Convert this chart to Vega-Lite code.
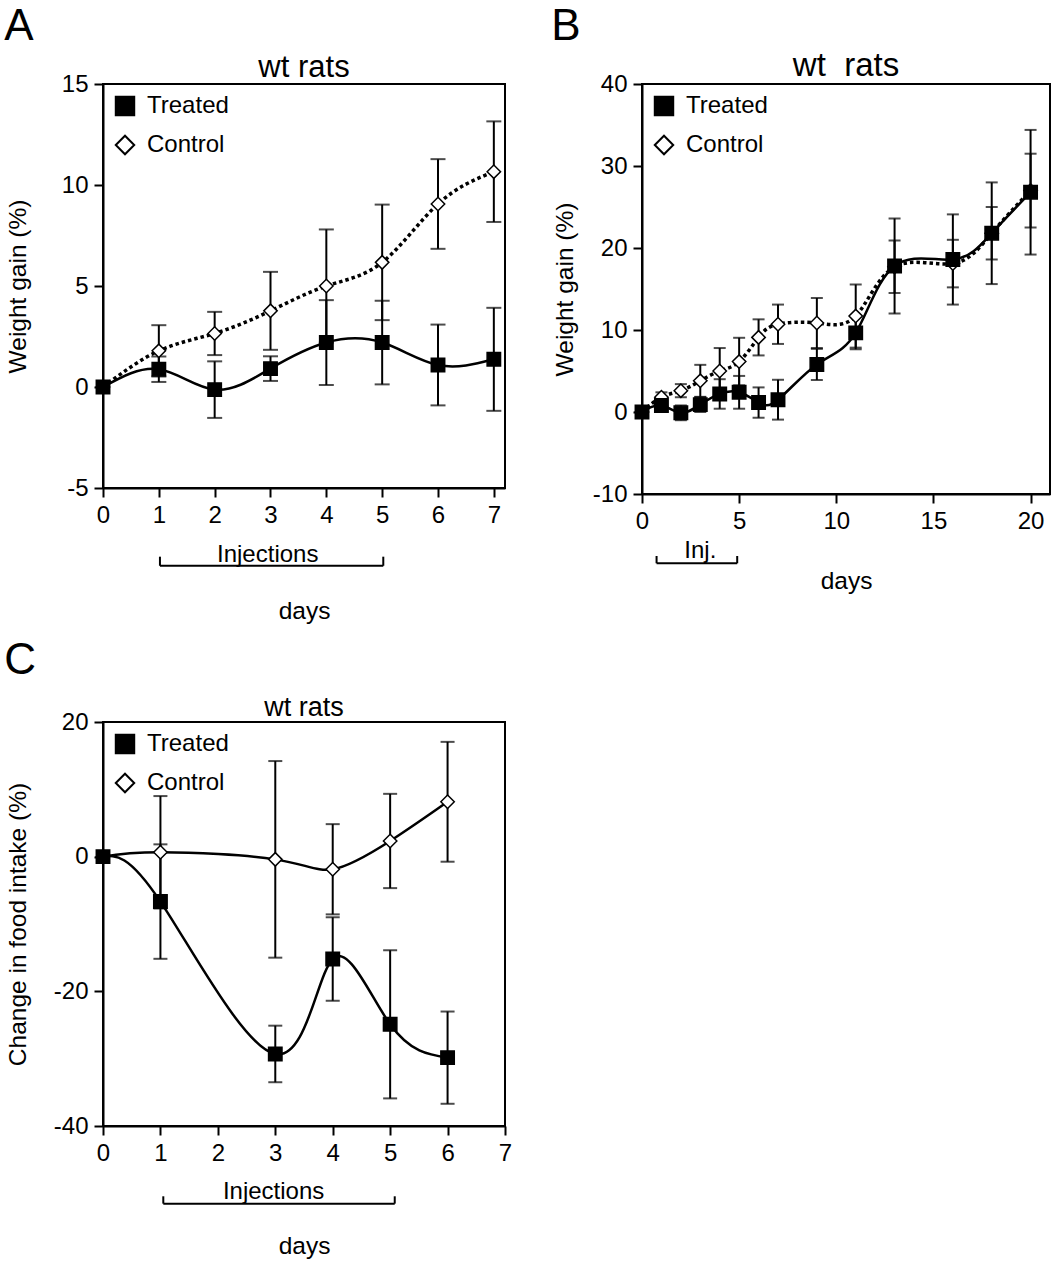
{
  "$schema": "https://vega.github.io/schema/vega-lite/v6.json",
  "background": "white",
  "padding": {"left": 4, "top": 5, "right": 0, "bottom": 0},
  "config": {
    "font": "Liberation Sans",
    "view": {"stroke": "black", "strokeWidth": 2},
    "axis": {"domainColor": "black", "domainWidth": 2, "tickColor": "black", "tickWidth": 2, "tickSize": 9, "labelFontSize": 24, "labelColor": "black", "labelPadding": 6, "titleFontSize": 24.5, "titleFontWeight": "normal", "titleColor": "black", "grid": false, "labelFlush": false, "labelOverlap": false},
    "title": {"fontWeight": "normal", "color": "black", "anchor": "middle"},
    "legend": {"orient": "top-left", "offset": 10, "padding": 0, "labelFontSize": 24, "labelColor": "black", "symbolSize": 340, "symbolStrokeWidth": 2, "symbolStrokeColor": "black", "rowPadding": 11, "labelOffset": 10}
  },
  "datasets": {
    "pts": [
      {"panel": "A", "series": "Control", "day": 0, "value": 0, "err": null},
      {"panel": "A", "series": "Control", "day": 1, "value": 1.79, "err": 1.27},
      {"panel": "A", "series": "Control", "day": 2, "value": 2.65, "err": 1.07},
      {"panel": "A", "series": "Control", "day": 3, "value": 3.77, "err": 1.93},
      {"panel": "A", "series": "Control", "day": 4, "value": 5.0, "err": 2.8},
      {"panel": "A", "series": "Control", "day": 5, "value": 6.17, "err": 2.86},
      {"panel": "A", "series": "Control", "day": 6, "value": 9.06, "err": 2.22},
      {"panel": "A", "series": "Control", "day": 7, "value": 10.66, "err": 2.49},
      {"panel": "A", "series": "Treated", "day": 0, "value": 0, "err": null},
      {"panel": "A", "series": "Treated", "day": 1, "value": 0.88, "err": 0.63},
      {"panel": "A", "series": "Treated", "day": 2, "value": -0.13, "err": 1.4},
      {"panel": "A", "series": "Treated", "day": 3, "value": 0.91, "err": 0.61},
      {"panel": "A", "series": "Treated", "day": 4, "value": 2.2, "err": 2.1},
      {"panel": "A", "series": "Treated", "day": 5, "value": 2.2, "err": 2.07},
      {"panel": "A", "series": "Treated", "day": 6, "value": 1.09, "err": 2.0},
      {"panel": "A", "series": "Treated", "day": 7, "value": 1.37, "err": 2.55},
      {"panel": "B", "series": "Control", "day": 0, "value": 0, "err": null},
      {"panel": "B", "series": "Control", "day": 1, "value": 1.8, "err": 0.6},
      {"panel": "B", "series": "Control", "day": 2, "value": 2.6, "err": 0.8},
      {"panel": "B", "series": "Control", "day": 3, "value": 3.8, "err": 1.95},
      {"panel": "B", "series": "Control", "day": 4, "value": 5.0, "err": 2.8},
      {"panel": "B", "series": "Control", "day": 5, "value": 6.15, "err": 2.9},
      {"panel": "B", "series": "Control", "day": 6, "value": 9.1, "err": 2.2},
      {"panel": "B", "series": "Control", "day": 7, "value": 10.7, "err": 2.4},
      {"panel": "B", "series": "Control", "day": 9, "value": 10.85, "err": 3.05},
      {"panel": "B", "series": "Control", "day": 11, "value": 11.7, "err": 3.85},
      {"panel": "B", "series": "Control", "day": 13, "value": 17.7, "err": 3.2},
      {"panel": "B", "series": "Control", "day": 16, "value": 18.1, "err": 2.9},
      {"panel": "B", "series": "Control", "day": 18, "value": 21.8, "err": 3.2},
      {"panel": "B", "series": "Control", "day": 20, "value": 27.0, "err": 4.5},
      {"panel": "B", "series": "Treated", "day": 0, "value": 0, "err": null},
      {"panel": "B", "series": "Treated", "day": 1, "value": 0.8, "err": 0.5},
      {"panel": "B", "series": "Treated", "day": 2, "value": -0.1, "err": 0.9},
      {"panel": "B", "series": "Treated", "day": 3, "value": 0.9, "err": 0.9},
      {"panel": "B", "series": "Treated", "day": 4, "value": 2.2, "err": 1.8},
      {"panel": "B", "series": "Treated", "day": 5, "value": 2.4, "err": 2.0},
      {"panel": "B", "series": "Treated", "day": 6, "value": 1.15, "err": 1.85},
      {"panel": "B", "series": "Treated", "day": 7, "value": 1.5, "err": 2.43},
      {"panel": "B", "series": "Treated", "day": 9, "value": 5.8, "err": 1.9},
      {"panel": "B", "series": "Treated", "day": 11, "value": 9.65, "err": 2.0},
      {"panel": "B", "series": "Treated", "day": 13, "value": 17.8, "err": 5.8},
      {"panel": "B", "series": "Treated", "day": 16, "value": 18.6, "err": 5.5},
      {"panel": "B", "series": "Treated", "day": 18, "value": 21.8, "err": 6.2},
      {"panel": "B", "series": "Treated", "day": 20, "value": 26.8, "err": 7.6},
      {"panel": "C", "series": "Control", "day": 0, "value": 0, "err": null},
      {"panel": "C", "series": "Control", "day": 1, "value": 0.65, "err": 8.35},
      {"panel": "C", "series": "Control", "day": 3, "value": -0.4, "err": 14.6},
      {"panel": "C", "series": "Control", "day": 4, "value": -1.87, "err": 6.7},
      {"panel": "C", "series": "Control", "day": 5, "value": 2.33, "err": 7.0},
      {"panel": "C", "series": "Control", "day": 6, "value": 8.15, "err": 8.9},
      {"panel": "C", "series": "Treated", "day": 0, "value": 0, "err": null},
      {"panel": "C", "series": "Treated", "day": 1, "value": -6.67, "err": 8.5},
      {"panel": "C", "series": "Treated", "day": 3, "value": -29.3, "err": 4.2},
      {"panel": "C", "series": "Treated", "day": 4, "value": -15.2, "err": 6.2},
      {"panel": "C", "series": "Treated", "day": 5, "value": -24.9, "err": 11.0},
      {"panel": "C", "series": "Treated", "day": 6, "value": -29.85, "err": 6.85}
    ],
    "ann": [
      {"panel": "A", "kind": "rule", "day": 1.02, "day2": 5.02, "value": -8.85, "value2": -8.85},
      {"panel": "A", "kind": "rule", "day": 1.02, "day2": 1.02, "value": -8.85, "value2": -8.4},
      {"panel": "A", "kind": "rule", "day": 5.02, "day2": 5.02, "value": -8.85, "value2": -8.4},
      {"panel": "A", "kind": "text", "day": 2.95, "value": -8.68, "label": "Injections"},
      {"panel": "B", "kind": "rule", "day": 0.75, "day2": 4.9, "value": -18.45, "value2": -18.45},
      {"panel": "B", "kind": "rule", "day": 0.75, "day2": 0.75, "value": -18.45, "value2": -17.56},
      {"panel": "B", "kind": "rule", "day": 4.9, "day2": 4.9, "value": -18.45, "value2": -17.56},
      {"panel": "B", "kind": "text", "day": 3.0, "value": -17.84, "label": "Inj."},
      {"panel": "C", "kind": "rule", "day": 1.05, "day2": 5.08, "value": -51.53, "value2": -51.53},
      {"panel": "C", "kind": "rule", "day": 1.05, "day2": 1.05, "value": -51.53, "value2": -50.44},
      {"panel": "C", "kind": "rule", "day": 5.08, "day2": 5.08, "value": -51.53, "value2": -50.44},
      {"panel": "C", "kind": "text", "day": 2.97, "value": -50.78, "label": "Injections"}
    ]
  },
  "spacing": 15,
  "resolve": {"scale": {"x": "independent", "y": "independent", "shape": "independent", "fill": "independent", "stroke": "independent"}, "axis": {"x": "independent", "y": "independent"}, "legend": {"shape": "independent", "fill": "independent", "stroke": "independent"}},
  "vconcat": [
    {
      "spacing": 45,
      "resolve": {"scale": {"x": "independent", "y": "independent", "shape": "independent", "fill": "independent", "stroke": "independent"}, "axis": {"x": "independent", "y": "independent"}, "legend": {"shape": "independent", "fill": "independent", "stroke": "independent"}},
      "hconcat": [
        {
          "title": {"text": "A", "fontSize": 44, "anchor": "start", "frame": "bounds", "offset": 2},
          "resolve": {"scale": {"x": "independent", "y": "independent", "shape": "independent", "fill": "independent", "stroke": "independent"}, "axis": {"x": "independent", "y": "independent"}, "legend": {"shape": "independent", "fill": "independent", "stroke": "independent"}},
          "vconcat": [
            {
              "title": {"text": "wt rats", "fontSize": 31, "offset": -12},
              "width": 402,
              "height": 404,
              "encoding": {
                "x": {"field": "day", "type": "quantitative", "scale": {"domain": [0, 7.2], "nice": false, "zero": false}, "axis": {"values": [0, 1, 2, 3, 4, 5, 6, 7], "title": "days", "titlePadding": 72}},
                "y": {"field": "value", "type": "quantitative", "scale": {"domain": [-5, 15], "nice": false, "zero": false}, "axis": {"values": [-5, 0, 5, 10, 15], "title": "Weight gain (%)", "titlePadding": 31, "labelExpr": "replace(datum.label, '\u2212', '-')"}}
              },
              "layer": [
                {"data": {"name": "pts"}, "transform": [{"filter": "datum.panel == 'A' && datum.err != null"}], "mark": {"type": "errorbar", "ticks": true, "size": 15, "thickness": 2, "color": "black"}, "encoding": {"yError": {"field": "err"}}},
                {"data": {"name": "pts"}, "transform": [{"filter": "datum.panel == 'A' && datum.series == 'Treated'"}], "mark": {"type": "line", "interpolate": "natural", "color": "black", "strokeWidth": 2.5}},
                {"data": {"name": "pts"}, "transform": [{"filter": "datum.panel == 'A' && datum.series == 'Control'"}], "mark": {"type": "line", "interpolate": "natural", "color": "black", "strokeWidth": 3.5, "strokeDash": [3.5, 3]}},
                {"data": {"name": "pts"}, "transform": [{"filter": "datum.panel == 'A'"}], "mark": {"type": "point", "filled": true, "size": 180, "strokeWidth": 1.5, "opacity": 1},
                  "encoding": {
                    "shape": {"field": "series", "type": "nominal", "scale": {"domain": ["Treated", "Control"], "range": ["square", "diamond"]}, "legend": {"title": null}},
                    "fill": {"field": "series", "type": "nominal", "scale": {"domain": ["Treated", "Control"], "range": ["black", "white"]}, "legend": {"title": null}},
                    "stroke": {"field": "series", "type": "nominal", "scale": {"domain": ["Treated", "Control"], "range": ["black", "black"]}, "legend": {"title": null}}
                  }},
                {"data": {"name": "ann"}, "transform": [{"filter": "datum.panel == 'A' && datum.kind == 'rule'"}], "mark": {"type": "rule", "color": "black", "strokeWidth": 2}, "encoding": {"x2": {"field": "day2"}, "y2": {"field": "value2"}}},
                {"data": {"name": "ann"}, "transform": [{"filter": "datum.panel == 'A' && datum.kind == 'text'"}], "mark": {"type": "text", "fontSize": 24, "align": "center", "baseline": "alphabetic", "color": "black"}, "encoding": {"text": {"field": "label"}}}
              ]
            }
          ]
        },
        {
          "title": {"text": "B", "fontSize": 44, "anchor": "start", "frame": "bounds", "offset": 0},
          "resolve": {"scale": {"x": "independent", "y": "independent", "shape": "independent", "fill": "independent", "stroke": "independent"}, "axis": {"x": "independent", "y": "independent"}, "legend": {"shape": "independent", "fill": "independent", "stroke": "independent"}},
          "vconcat": [
            {
              "title": {"text": "wt\u00a0 rats", "fontSize": 33, "offset": -11},
              "width": 408,
              "height": 410,
              "encoding": {
                "x": {"field": "day", "type": "quantitative", "scale": {"domain": [0, 21], "nice": false, "zero": false}, "axis": {"values": [0, 5, 10, 15, 20], "title": "days", "titlePadding": 36}},
                "y": {"field": "value", "type": "quantitative", "scale": {"domain": [-10, 40], "nice": false, "zero": false}, "axis": {"values": [-10, 0, 10, 20, 30, 40], "title": "Weight gain (%)", "titlePadding": 15, "labelExpr": "replace(datum.label, '\u2212', '-')"}}
              },
              "layer": [
                {"data": {"name": "pts"}, "transform": [{"filter": "datum.panel == 'B' && datum.err != null"}], "mark": {"type": "errorbar", "ticks": true, "size": 12, "thickness": 2, "color": "black"}, "encoding": {"yError": {"field": "err"}}},
                {"data": {"name": "pts"}, "transform": [{"filter": "datum.panel == 'B' && datum.series == 'Treated'"}], "mark": {"type": "line", "interpolate": "natural", "color": "black", "strokeWidth": 2.5}},
                {"data": {"name": "pts"}, "transform": [{"filter": "datum.panel == 'B' && datum.series == 'Control'"}], "mark": {"type": "line", "interpolate": "natural", "color": "black", "strokeWidth": 3.5, "strokeDash": [3.5, 3]}},
                {"data": {"name": "pts"}, "transform": [{"filter": "datum.panel == 'B'"}], "mark": {"type": "point", "filled": true, "size": 180, "strokeWidth": 1.5, "opacity": 1},
                  "encoding": {
                    "shape": {"field": "series", "type": "nominal", "scale": {"domain": ["Treated", "Control"], "range": ["square", "diamond"]}, "legend": {"title": null}},
                    "fill": {"field": "series", "type": "nominal", "scale": {"domain": ["Treated", "Control"], "range": ["black", "white"]}, "legend": {"title": null}},
                    "stroke": {"field": "series", "type": "nominal", "scale": {"domain": ["Treated", "Control"], "range": ["black", "black"]}, "legend": {"title": null}}
                  }},
                {"data": {"name": "ann"}, "transform": [{"filter": "datum.panel == 'B' && datum.kind == 'rule'"}], "mark": {"type": "rule", "color": "black", "strokeWidth": 2}, "encoding": {"x2": {"field": "day2"}, "y2": {"field": "value2"}}},
                {"data": {"name": "ann"}, "transform": [{"filter": "datum.panel == 'B' && datum.kind == 'text'"}], "mark": {"type": "text", "fontSize": 24, "align": "center", "baseline": "alphabetic", "color": "black"}, "encoding": {"text": {"field": "label"}}}
              ]
            }
          ]
        }
      ]
    },
    {
      "title": {"text": "C", "fontSize": 44, "anchor": "start", "frame": "bounds", "offset": 10},
      "resolve": {"scale": {"x": "independent", "y": "independent", "shape": "independent", "fill": "independent", "stroke": "independent"}, "axis": {"x": "independent", "y": "independent"}, "legend": {"shape": "independent", "fill": "independent", "stroke": "independent"}},
      "vconcat": [
        {
          "title": {"text": "wt rats", "fontSize": 27, "offset": -12},
          "width": 402,
          "height": 404,
          "encoding": {
            "x": {"field": "day", "type": "quantitative", "scale": {"domain": [0, 7], "nice": false, "zero": false}, "axis": {"values": [0, 1, 2, 3, 4, 5, 6, 7], "title": "days", "titlePadding": 69}},
            "y": {"field": "value", "type": "quantitative", "scale": {"domain": [-40, 20], "nice": false, "zero": false}, "axis": {"values": [-40, -20, 0, 20], "title": "Change in food intake (%)", "titlePadding": 23, "labelExpr": "replace(datum.label, '\u2212', '-')"}}
          },
          "layer": [
            {"data": {"name": "pts"}, "transform": [{"filter": "datum.panel == 'C' && datum.err != null"}], "mark": {"type": "errorbar", "ticks": true, "size": 14, "thickness": 2, "color": "black"}, "encoding": {"yError": {"field": "err"}}},
            {"data": {"name": "pts"}, "transform": [{"filter": "datum.panel == 'C' && datum.series == 'Treated'"}], "mark": {"type": "line", "interpolate": "natural", "color": "black", "strokeWidth": 2.5}},
            {"data": {"name": "pts"}, "transform": [{"filter": "datum.panel == 'C' && datum.series == 'Control'"}], "mark": {"type": "line", "interpolate": "natural", "color": "black", "strokeWidth": 2.5}},
            {"data": {"name": "pts"}, "transform": [{"filter": "datum.panel == 'C'"}], "mark": {"type": "point", "filled": true, "size": 180, "strokeWidth": 1.5, "opacity": 1},
              "encoding": {
                "shape": {"field": "series", "type": "nominal", "scale": {"domain": ["Treated", "Control"], "range": ["square", "diamond"]}, "legend": {"title": null}},
                "fill": {"field": "series", "type": "nominal", "scale": {"domain": ["Treated", "Control"], "range": ["black", "white"]}, "legend": {"title": null}},
                "stroke": {"field": "series", "type": "nominal", "scale": {"domain": ["Treated", "Control"], "range": ["black", "black"]}, "legend": {"title": null}}
              }},
            {"data": {"name": "ann"}, "transform": [{"filter": "datum.panel == 'C' && datum.kind == 'rule'"}], "mark": {"type": "rule", "color": "black", "strokeWidth": 2}, "encoding": {"x2": {"field": "day2"}, "y2": {"field": "value2"}}},
            {"data": {"name": "ann"}, "transform": [{"filter": "datum.panel == 'C' && datum.kind == 'text'"}], "mark": {"type": "text", "fontSize": 24, "align": "center", "baseline": "alphabetic", "color": "black"}, "encoding": {"text": {"field": "label"}}}
          ]
        }
      ]
    }
  ]
}
